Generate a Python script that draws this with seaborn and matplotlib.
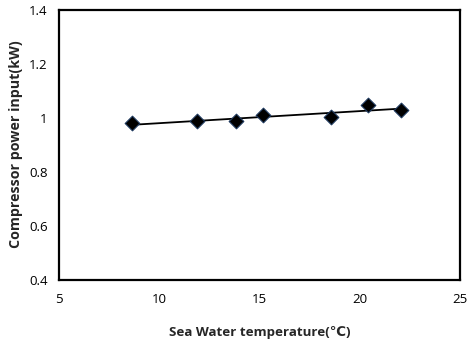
import numpy as np
import pandas as pd
import matplotlib
matplotlib.use("Agg")
import matplotlib.pyplot as plt
import seaborn as sns

temperature = [8.67, 11.89, 13.83, 15.19, 18.55, 20.43, 22.07]
power = [0.978, 0.987, 0.986, 1.009, 1.001, 1.046, 1.028]
x_ticks = [5, 10, 15, 20, 25]
y_ticks = [0.4, 0.6, 0.8, 1.0, 1.2, 1.4]
y_tick_labels = ["0.4", "0.6", "0.8", "1", "1.2", "1.4"]

df = pd.DataFrame({"temp": temperature, "power": power})

sns.set_style("white")
plt.rcParams["font.family"] = ["Open Sans", "DejaVu Sans"]

fig = plt.figure(figsize=(4.73, 3.47), dpi=100)
ax = fig.add_axes([0.124, 0.1945, 0.8485, 0.778])

sns.regplot(data=df, x="temp", y="power", ax=ax, ci=None, truncate=True, marker="D",
            scatter_kws=dict(s=56, color="black", edgecolors="#1f3a5f",
                             linewidths=0.8, zorder=3, alpha=1),
            line_kws=dict(color="black", lw=1.3, zorder=2))

ax.set_xlim(5, 25)
ax.set_ylim(0.4, 1.4)
ax.set_xticks(x_ticks)
ax.set_xticklabels([str(t) for t in x_ticks])
ax.set_yticks(y_ticks)
ax.set_yticklabels(y_tick_labels)
ax.tick_params(axis="both", direction="in", length=3, width=0.8, color="#808080",
               labelsize=9.5, labelcolor="black")
ax.tick_params(axis="x", pad=10)
ax.tick_params(axis="y", pad=8)
for s in ax.spines.values():
    s.set_visible(True)
    s.set_color("black")
    s.set_linewidth(1.6)

ax.set_xlabel("Sea Water temperature(℃)", fontsize=9.6, fontweight="bold", labelpad=14)
ax.set_ylabel("Compressor power input(kW)", fontsize=10.3, fontweight="bold", labelpad=4)

fig.savefig("out.png", dpi=100)
